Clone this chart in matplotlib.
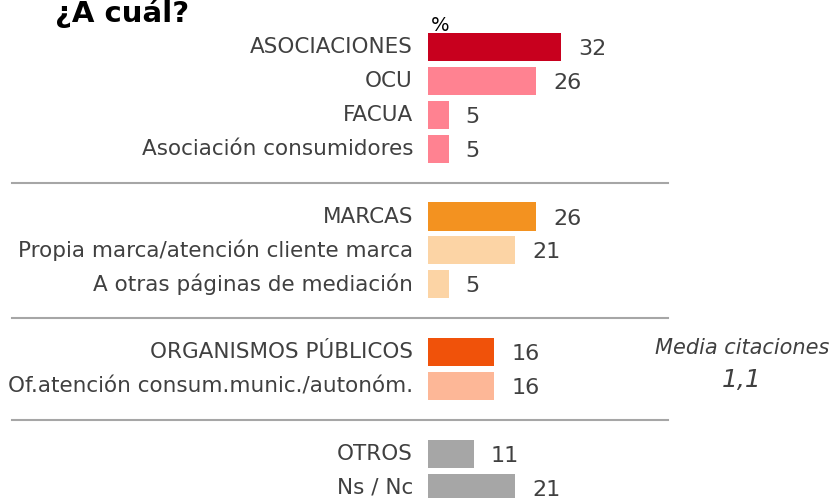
import matplotlib
matplotlib.use('Agg')
import matplotlib.pyplot as plt

# Data
categories = ['ASOCIACIONES', 'OCU', 'FACUA', 'Asociación consumidores',
              'MARCAS', 'Propia marca/atención cliente marca', 'A otras páginas de mediación',
              'ORGANISMOS PÚBLICOS', 'Of.atención consum.munic./autonóm.',
              'OTROS', 'Ns / Nc']
values = [32, 26, 5, 5, 26, 21, 5, 16, 16, 11, 21]
group_sizes = [4, 3, 2, 2]
bar_colors = ['#C8001E', '#FF8291', '#FF8291', '#FF8291',
              '#F39220', '#FCD4A5', '#FCD4A5',
              '#F0520A', '#FDB797',
              '#A6A6A6', '#A6A6A6']
mean_label = 'Media citaciones'
mean_value = '1,1'

# Layout in pixels of the 834x498 picture
W, H = 834, 498
px_per_unit = 4.15      # horizontal pixels per percent
bar_x0 = 428            # left edge of bars
row_pitch = 33.9        # vertical pixels per row slot
first_row = 47          # y of first bar center
text_color = '#404040'

fig = plt.figure(figsize=(W / 100, H / 100), dpi=100)
ax = fig.add_axes([0, 0, 1, 1])
ax.set_xlim(-bar_x0 / px_per_unit, (W - bar_x0) / px_per_unit)
ax.set_ylim((H - first_row) / row_pitch, -first_row / row_pitch)
ax.axis('off')

# Row slots, leaving one empty slot between groups
slots = []
separators = []
slot = 0
for gi, n in enumerate(group_sizes):
    for _ in range(n):
        slots.append(slot)
        slot += 1
    if gi < len(group_sizes) - 1:
        separators.append(slot)
        slot += 1

ax.barh(slots, values, height=0.83, color=bar_colors, align='center')

gap = 17 / px_per_unit
for y, v, name in zip(slots, values, categories):
    ax.text(-15 / px_per_unit, y, name, ha='right', va='center',
            fontsize=15.5, color=text_color)
    ax.text(v + gap, y + 0.06, str(v), ha='left', va='center',
            fontsize=16, color=text_color)

# Grey separator lines between groups
for s in separators:
    ax.plot([(12 - bar_x0) / px_per_unit, (668 - bar_x0) / px_per_unit], [s, s],
            color='#A6A6A6', linewidth=1.5)

# Title, unit and average note
fig.text(55 / W, 1 - 22 / H, '¿A cuál?', fontsize=21, fontweight='bold',
         ha='left', va='baseline', color='black')
fig.text(431 / W, 1 - 31 / H, '%', fontsize=14, ha='left', va='baseline',
         color='black')
fig.text(742 / W, 1 - 348 / H, mean_label, fontsize=15, style='italic',
         ha='center', va='center', color=text_color)
fig.text(742 / W, 1 - 380 / H, mean_value, fontsize=18, style='italic',
         ha='center', va='center', color=text_color)

plt.savefig('out.png', dpi=100)
plt.close()
